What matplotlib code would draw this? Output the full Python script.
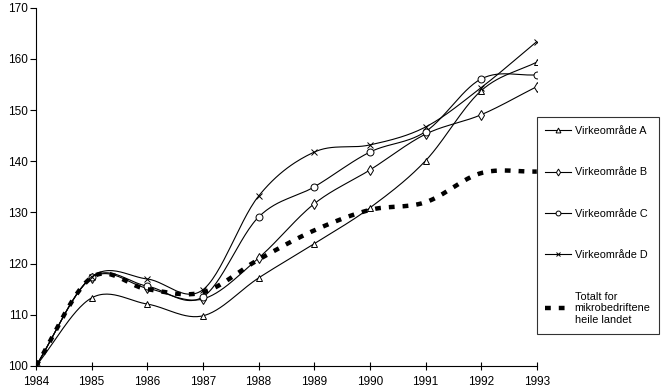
import numpy as np
import matplotlib.pyplot as plt

years = [1984, 1985, 1986, 1987, 1988, 1989, 1990, 1991, 1992, 1993]
omr_a = [100, 113.3, 112.1, 109.8, 117.2, 123.9, 130.9, 140.1, 153.8, 159.4]
omr_b = [100, 117.2, 115.2, 113.1, 121.1, 131.7, 138.3, 145.3, 149.1, 154.6]
omr_c = [100, 117.3, 115.6, 113.5, 129.1, 135.0, 141.8, 145.8, 156.1, 156.9]
omr_d = [100, 117.4, 117.0, 114.9, 133.2, 141.8, 143.2, 146.7, 154.4, 163.4]
totalt = [100, 117.3, 115.0, 114.4, 120.8, 126.5, 130.5, 132.0, 137.7, 138.0]
labels = ['Virkeområde A', 'Virkeområde B', 'Virkeområde C', 'Virkeområde D',
          'Totalt for\nmikrobedriftene\nheile landet']


def smooth(x, y, n=30):
    # catmull-rom through the points, for the curved look of the original
    x = np.asarray(x, float)
    y = np.asarray(y, float)
    px = np.concatenate([[2 * x[0] - x[1]], x, [2 * x[-1] - x[-2]]])
    py = np.concatenate([[2 * y[0] - y[1]], y, [2 * y[-1] - y[-2]]])
    xs, ys = [], []
    t = np.linspace(0, 1, n)
    for i in range(1, len(px) - 2):
        for p, out in ((px, xs), (py, ys)):
            p0, p1, p2, p3 = p[i - 1], p[i], p[i + 1], p[i + 2]
            out.extend(0.5 * (2 * p1 + (-p0 + p2) * t
                              + (2 * p0 - 5 * p1 + 4 * p2 - p3) * t ** 2
                              + (-p0 + 3 * p1 - 3 * p2 + p3) * t ** 3))
    return xs, ys


plt.rcParams['font.family'] = ['Liberation Sans', 'DejaVu Sans']
plt.rcParams['font.size'] = 8.5

fig = plt.figure(figsize=(6.66, 3.91), dpi=100)
ax = fig.add_axes([0.054, 0.064, 0.752, 0.916])

handles = []
for vals, mk in zip([omr_a, omr_b, omr_c, omr_d], ['^', 'd', 'o', 'x']):
    sx, sy = smooth(years, vals)
    ax.plot(sx, sy, color='black', lw=0.8)
    ax.plot(years, vals, ls='none', marker=mk, ms=5 if mk != 'x' else 4,
            mfc='white', mec='black', mew=0.7)
    h, = ax.plot([], [], color='black', lw=0.8, marker=mk, ms=3.5,
                 mfc='white', mec='black', mew=0.7)
    handles.append(h)

sx, sy = smooth(years, totalt)
h, = ax.plot(sx, sy, color='black', lw=3.2, ls=(0, (1.3, 1.8)))
handles.append(h)

ax.set_xlim(1984, 1993)
ax.set_ylim(100, 170)
ax.set_xticks(years)
ax.set_yticks(range(100, 171, 10))
ax.spines['top'].set_visible(False)
ax.spines['right'].set_visible(False)
ax.tick_params(axis='x', direction='inout', length=6, width=0.8, pad=4)
ax.tick_params(axis='y', direction='out', length=4, width=0.8, pad=2)

leg = fig.legend(handles, labels, loc='upper left', fontsize=7.8,
                 bbox_to_anchor=(0.806, 0.70), frameon=True, fancybox=False,
                 edgecolor='black', handlelength=2.4, labelspacing=2.9,
                 borderpad=0.8, handletextpad=0.3, borderaxespad=0)
leg.get_frame().set_linewidth(0.8)

fig.savefig('out.png', dpi=100)
